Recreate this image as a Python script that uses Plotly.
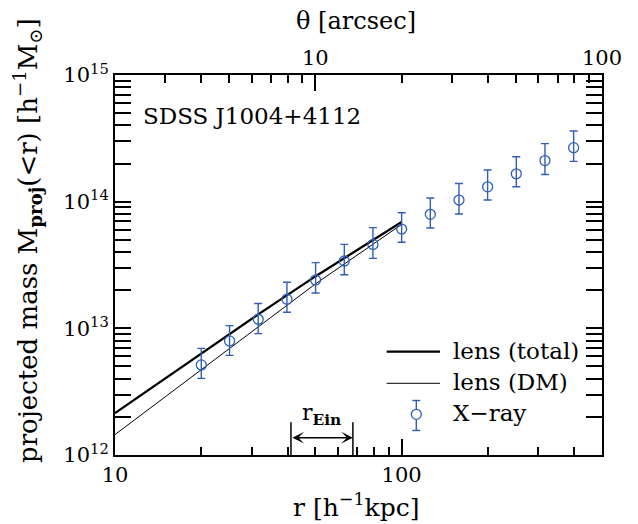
import numpy as np
import plotly.graph_objects as go

# ---------------- data ----------------
r_xray = [20.0, 25.1, 31.6, 39.8, 50.1, 63.1, 79.4, 100.0, 125.9, 158.5, 199.5, 251.2, 316.2, 398.1]
M_xray = [5.14e12, 7.95e12, 1.18e13, 1.70e13, 2.41e13, 3.40e13, 4.60e13, 6.08e13,
          7.94e13, 1.03e14, 1.31e14, 1.66e14, 2.11e14, 2.67e14]
M_xray_hi = [6.95e12, 1.05e13, 1.57e13, 2.31e13, 3.30e13, 4.60e13, 6.24e13, 8.18e13,
             1.07e14, 1.39e14, 1.78e14, 2.26e14, 2.87e14, 3.61e14]
M_xray_lo = [4.03e12, 6.12e12, 9.08e12, 1.34e13, 1.90e13, 2.65e13, 3.57e13, 4.78e13,
             6.19e13, 8.00e13, 1.03e14, 1.31e14, 1.64e14, 2.08e14]

r_lens = [10.0, 20.0, 31.6, 50.0, 100.0]
M_lens_total = [2.14e12, 6.31e12, 1.29e13, 2.57e13, 6.92e13]
M_lens_dm = [1.45e12, 4.68e12, 1.02e13, 2.24e13, 6.61e13]

r_ein_range = [41.1, 67.6]

x_range = [10, 500]
y_range = [1e12, 1e15]
x_major = [10, 100]
x_minor = [20, 30, 40, 50, 60, 70, 80, 90, 200, 300, 400]
y_major = [1e12, 1e13, 1e14, 1e15]
y_minor = [m * 10.0 ** e for e in (12, 13, 14) for m in range(2, 10)]

kpc_per_arcsec = 5.0
theta_major = [10, 100]
theta_minor = [3, 4, 5, 6, 7, 8, 9, 20, 30, 40, 50, 60, 70, 80, 90]

BLUE = '#2f5fb8'
FONT = 'DejaVu Serif'

# ---------------- layout geometry ----------------
# page body has an 8px margin; compensate so the plot area lands at the right screen pixels
OFF = 8
W, H = 638 - OFF, 524 - OFF
L, R, T, B = 115 - OFF, 36, 75 - OFF, 69
pw, ph = W - L - R, H - T - B
PL, PB = 115, 455  # plot-area left / bottom in screen pixels


def px(x):
    return (x - PL) / pw


def py(y):
    return (PB - y) / ph


def label(fig, x, y, text, size, xanchor='center', angle=0):
    fig.add_annotation(x=px(x), y=py(y), xref='paper', yref='paper', showarrow=False,
                       xanchor=xanchor, yanchor='middle', textangle=angle, text=text,
                       font=dict(family=FONT, size=size, color='black'))


fig = go.Figure()

# lens lines
fig.add_trace(go.Scatter(x=r_lens, y=M_lens_total, mode='lines',
                         line=dict(color='black', width=2.3), showlegend=False, hoverinfo='skip'))
fig.add_trace(go.Scatter(x=r_lens, y=M_lens_dm, mode='lines',
                         line=dict(color='black', width=1), showlegend=False, hoverinfo='skip'))

# X-ray points
err_plus = [h - m for h, m in zip(M_xray_hi, M_xray)]
err_minus = [m - l for m, l in zip(M_xray, M_xray_lo)]
fig.add_trace(go.Scatter(x=r_xray, y=M_xray, mode='markers',
                         marker=dict(symbol='circle-open', size=10, color=BLUE, line=dict(width=1.3, color=BLUE)),
                         error_y=dict(type='data', symmetric=False, array=err_plus, arrayminus=err_minus,
                                      color=BLUE, thickness=1.4, width=4),
                         showlegend=False, hoverinfo='skip'))

# invisible trace to activate the top (theta) axis
fig.add_trace(go.Scatter(x=r_xray, y=M_xray, xaxis='x2', mode='markers',
                         marker=dict(opacity=0), showlegend=False, hoverinfo='skip'))

# r_Ein markers (vertical bars) and double arrow
ein_top = 1.81e12
for rv in r_ein_range:
    fig.add_trace(go.Scatter(x=[rv, rv], y=[y_range[0], ein_top], mode='lines',
                             line=dict(color='black', width=1.5), showlegend=False, hoverinfo='skip'))
arrow_y = np.log10(1.37e12)
fig.add_annotation(x=np.log10(r_ein_range[1]), y=arrow_y, ax=np.log10(r_ein_range[0]), ay=arrow_y,
                   xref='x', yref='y', axref='x', ayref='y', text='', showarrow=True,
                   arrowhead=3, startarrowhead=3, arrowside='end+start', arrowwidth=1.5,
                   arrowsize=1.3, startarrowsize=1.3, arrowcolor='black')
label(fig, 321.7, 414, 'r<sub><b>Ein</b></sub>', 22)

axis_common = dict(showgrid=False, zeroline=False, ticks='inside', ticklen=16, tickwidth=1.5,
                   tickcolor='black', showline=True, linecolor='black', linewidth=2,
                   tickfont=dict(family=FONT, size=21, color='black'))

fig.update_layout(
    width=W, height=H,
    margin=dict(l=L, r=R, t=T, b=B, autoexpand=False),
    paper_bgcolor='white', plot_bgcolor='white',
    showlegend=False,
    xaxis=dict(type='log', range=[np.log10(x_range[0]), np.log10(x_range[1])],
               tickmode='array', tickvals=x_major, ticktext=[str(v) for v in x_major],
               minor=dict(tickvals=x_minor, ticklen=8, tickwidth=1.5, ticks='inside', tickcolor='black'),
               mirror=False, **axis_common),
    xaxis2=dict(type='log', overlaying='x', side='top', anchor='y',
                range=[np.log10(x_range[0]), np.log10(x_range[1])],
                tickmode='array', tickvals=[t * kpc_per_arcsec for t in theta_major],
                ticktext=[str(t) for t in theta_major],
                minor=dict(tickvals=[t * kpc_per_arcsec for t in theta_minor], ticklen=8, tickwidth=1.5,
                           ticks='inside', tickcolor='black'),
                **axis_common),
    yaxis=dict(type='log', range=[np.log10(y_range[0]), np.log10(y_range[1])],
               tickmode='array', tickvals=y_major,
               ticktext=['10<sup>%d</sup>' % int(round(np.log10(v))) for v in y_major],
               minor=dict(tickvals=y_minor, ticklen=8, tickwidth=1.5, ticks='inside', tickcolor='black'),
               mirror='allticks', **axis_common),
)

# titles
label(fig, 356, 505, 'r [h<sup>−1</sup>kpc]', 25)
label(fig, 356, 21, 'θ [arcsec]', 24)
label(fig, 27, 241, 'projected mass M<sub><b>proj</b></sub>(&lt;r) [h<sup>−1</sup>M<sub>⊙</sub>]', 26, angle=-90)

# cluster label
label(fig, 141, 116, 'SDSS J1004+4112', 23, xanchor='left')

# manual legend
leg_rows = [351.7, 383.3, 414.3]
fig.add_shape(type='line', xref='paper', yref='paper', x0=px(386.7), x1=px(440), y0=py(leg_rows[0]),
              y1=py(leg_rows[0]), line=dict(color='black', width=2.3))
fig.add_shape(type='line', xref='paper', yref='paper', x0=px(386.7), x1=px(440), y0=py(leg_rows[1]),
              y1=py(leg_rows[1]), line=dict(color='black', width=1))
mx, my = 416.3, leg_rows[2]
fig.add_shape(type='circle', xref='paper', yref='paper', x0=px(mx - 5), x1=px(mx + 5), y0=py(my + 5),
              y1=py(my - 5), line=dict(color=BLUE, width=1.3))
fig.add_shape(type='line', xref='paper', yref='paper', x0=px(mx), x1=px(mx), y0=py(400.5), y1=py(my - 5),
              line=dict(color=BLUE, width=1.4))
fig.add_shape(type='line', xref='paper', yref='paper', x0=px(mx), x1=px(mx), y0=py(my + 5), y1=py(430.5),
              line=dict(color=BLUE, width=1.4))
for yy in (400.5, 430.5):
    fig.add_shape(type='line', xref='paper', yref='paper', x0=px(mx - 4), x1=px(mx + 4), y0=py(yy), y1=py(yy),
                  line=dict(color=BLUE, width=1.4))
for txt, yy in zip(['lens (total)', 'lens (DM)', 'X−ray'], leg_rows):
    label(fig, 451, yy - 1, txt, 23, xanchor='left')

fig.write_html('out.html')
